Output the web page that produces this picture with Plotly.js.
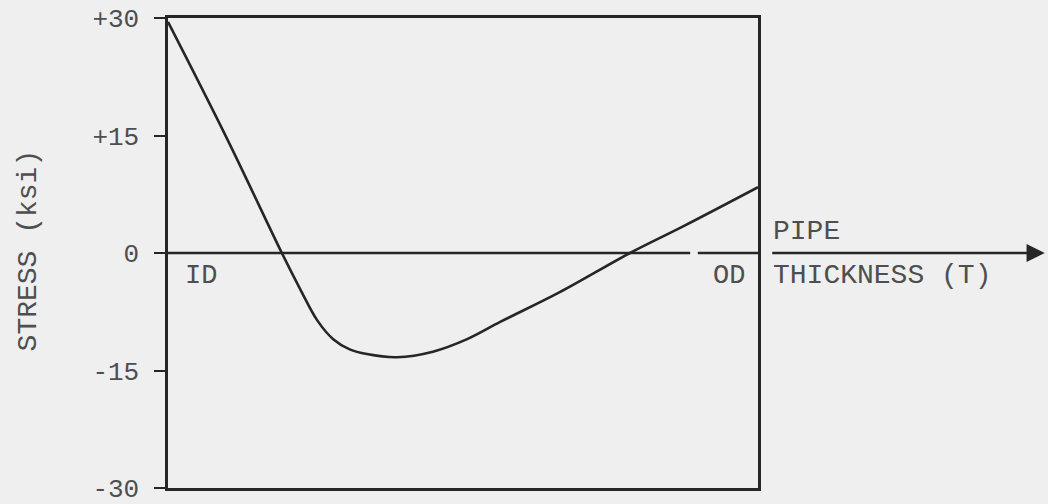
<!DOCTYPE html>
<html>
<head>
<meta charset="utf-8">
<script src="https://cdn.plot.ly/plotly-3.0.1.min.js"></script>
<style>
  html, body { margin: 0; padding: 0; background: #efefef; }
  #chart { width: 1048px; height: 504px; }
</style>
</head>
<body>
<div id="chart"></div>
<script>
// Residual stress through the pipe wall, ID (0) to OD (1)
const thicknessFrac = [0, 0.1, 0.193, 0.224, 0.253, 0.28, 0.308, 0.337, 0.388, 0.449, 0.507, 0.563, 0.664, 0.783, 0.873, 1.0];
const stressKsi     = [29.5, 14.6, 0, -4.6, -8.6, -11.0, -12.3, -12.9, -13.3, -12.6, -11.0, -8.8, -5.0, 0, 3.4, 8.4];

const stressTicks  = [-30, -15, 0, 15, 30];
const stressLabels = ['-30', '-15', '0', '+15', '+30'];

const ink = '#262626';
const textInk = '#4e4e4e';
const mono = 'Liberation Mono, DejaVu Sans Mono, monospace';

const trace = {
  x: thicknessFrac,
  y: stressKsi,
  type: 'scatter',
  mode: 'lines',
  line: { color: ink, width: 2.6, shape: 'spline', smoothing: 1.0 },
  hoverinfo: 'skip'
};

const layout = {
  width: 1048,
  height: 504,
  margin: { l: 168, r: 290, t: 18, b: 16 },
  paper_bgcolor: '#efefef',
  plot_bgcolor: '#efefef',
  showlegend: false,
  font: { family: mono, color: textInk, size: 28 },
  xaxis: {
    range: [0, 1],
    showgrid: false,
    zeroline: false,
    showticklabels: false,
    ticks: '',
    showline: true,
    mirror: true,
    linecolor: ink,
    linewidth: 2.6
  },
  yaxis: {
    range: [-30, 30],
    showgrid: false,
    zeroline: false,
    tickvals: stressTicks,
    ticktext: stressLabels,
    ticks: 'outside',
    ticklen: 11,
    tickwidth: 2,
    tickcolor: ink,
    ticklabelstandoff: 10,
    ticklabeloverflow: 'allow',
    tickfont: { family: mono, size: 26, color: textInk },
    showline: true,
    mirror: true,
    linecolor: ink,
    linewidth: 2.6
  },
  shapes: [
    // zero stress line across the wall
    { type: 'line', xref: 'paper', yref: 'y', x0: 0, x1: 0.885, y0: 0, y1: 0,
      line: { color: ink, width: 2.6 } },
    { type: 'line', xref: 'paper', yref: 'y', x0: 0.898, x1: 1, y0: 0, y1: 0,
      line: { color: ink, width: 2.6 } }
  ],
  annotations: [
    // thickness direction arrow beyond the OD
    { xref: 'paper', yref: 'y', x: 1.486, y: 0, axref: 'pixel', ayref: 'pixel',
      ax: -274, ay: 0, text: '', showarrow: true, arrowhead: 2, arrowsize: 1.4,
      arrowwidth: 2.6, arrowcolor: ink, standoff: 0, startstandoff: 0 },
    { xref: 'paper', yref: 'y', x: 0.025, y: -2.9, text: 'ID', showarrow: false,
      xanchor: 'left', yanchor: 'middle', font: { family: mono, size: 27, color: textInk } },
    { xref: 'paper', yref: 'y', x: 0.982, y: -2.9, text: 'OD', showarrow: false,
      xanchor: 'right', yanchor: 'middle', font: { family: mono, size: 27, color: textInk } },
    { xref: 'paper', yref: 'y', x: 1.022, y: 2.8, text: 'PIPE', showarrow: false,
      xanchor: 'left', yanchor: 'middle', font: { family: mono, size: 28, color: textInk } },
    { xref: 'paper', yref: 'y', x: 1.022, y: -2.9, text: 'THICKNESS (T)', showarrow: false,
      xanchor: 'left', yanchor: 'middle', font: { family: mono, size: 28, color: textInk } },
    { xref: 'paper', yref: 'y', x: -0.236, y: 0.3, text: 'STRESS (ksi)', showarrow: false,
      textangle: -90, xanchor: 'center', yanchor: 'middle',
      font: { family: mono, size: 28, color: textInk } }
  ]
};

Plotly.newPlot('chart', [trace], layout, { staticPlot: true, displayModeBar: false });
</script>
</body>
</html>
